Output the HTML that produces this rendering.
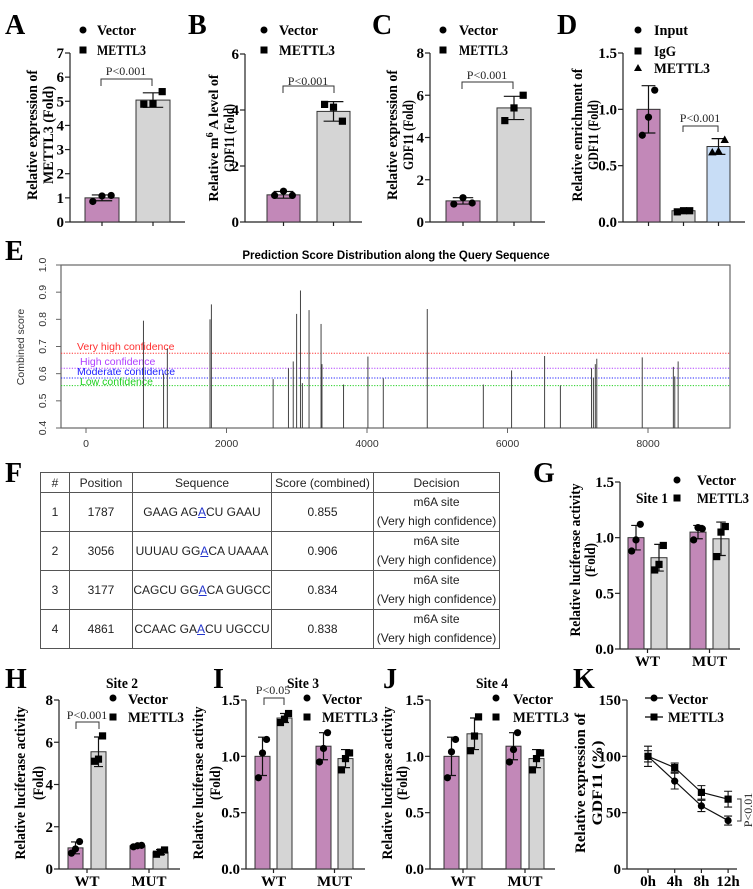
<!DOCTYPE html>
<html><head><meta charset="utf-8">
<style>
body{margin:0;background:#fff;}
#wrap{position:relative;width:753px;height:889px;overflow:hidden;background:#fff;}
svg text{font-family:"Liberation Serif",serif;}
.b{font-weight:bold;}
.lt{font-family:"Liberation Serif",serif;font-weight:bold;font-size:28px;}
.tk{font-weight:bold;font-size:15px;}
.lg{font-weight:bold;font-size:15px;}
.p{font-size:12px;}
#tbl{position:absolute;left:40px;top:472px;border-collapse:collapse;font-family:"Liberation Sans",sans-serif;font-size:12px;color:#222;}
#tbl td{border:1px solid #555;text-align:center;padding:0;}
.u{color:#2233cc;text-decoration:underline;}
</style></head><body>
<div id="wrap">
<svg id="fig" width="753" height="889" xmlns="http://www.w3.org/2000/svg">
<text class="lt" x="5" y="34">A</text>
<text class="lt" x="188" y="34">B</text>
<text class="lt" x="372" y="34">C</text>
<text class="lt" x="557" y="34">D</text>
<text class="lt" x="5" y="260">E</text>
<text class="lt" x="5" y="482">F</text>
<text class="lt" x="533" y="482">G</text>
<text class="lt" x="5" y="688">H</text>
<text class="lt" x="213" y="688">I</text>
<text class="lt" x="383" y="688">J</text>
<text class="lt" x="573" y="688">K</text>

<g class="b" font-size="15" text-anchor="middle">
<text transform="translate(37,135) rotate(-90)" textLength="130" lengthAdjust="spacingAndGlyphs">Relative expression of</text>
<text transform="translate(53,135) rotate(-90)" textLength="98" lengthAdjust="spacingAndGlyphs">METTL3 (Fold)</text>
<text transform="translate(218,138) rotate(-90)" font-size="14">Relative m<tspan font-size="10" dy="-5">6</tspan><tspan dy="5"> A level of</tspan></text>
<text transform="translate(234,138) rotate(-90)" textLength="68" lengthAdjust="spacingAndGlyphs">GDF11 (Fold)</text>
<text transform="translate(397,135) rotate(-90)" textLength="130" lengthAdjust="spacingAndGlyphs">Relative expression of</text>
<text transform="translate(413,135) rotate(-90)" textLength="70" lengthAdjust="spacingAndGlyphs">GDF11 (Fold)</text>
<text transform="translate(582,135) rotate(-90)" textLength="133" lengthAdjust="spacingAndGlyphs">Relative enrichment of</text>
<text transform="translate(598,135) rotate(-90)" textLength="70" lengthAdjust="spacingAndGlyphs">GDF11 (Fold)</text>
<text transform="translate(580,560) rotate(-90)" textLength="153" lengthAdjust="spacingAndGlyphs">Relative luciferase activity</text>
<text transform="translate(595,560) rotate(-90)" textLength="34" lengthAdjust="spacingAndGlyphs">(Fold)</text>
<text transform="translate(25,783) rotate(-90)" textLength="153" lengthAdjust="spacingAndGlyphs">Relative luciferase activity</text>
<text transform="translate(43,783) rotate(-90)" textLength="34" lengthAdjust="spacingAndGlyphs">(Fold)</text>
<text transform="translate(203,783) rotate(-90)" textLength="153" lengthAdjust="spacingAndGlyphs">Relative luciferase activity</text>
<text transform="translate(220,783) rotate(-90)" textLength="34" lengthAdjust="spacingAndGlyphs">(Fold)</text>
<text transform="translate(392,783) rotate(-90)" textLength="153" lengthAdjust="spacingAndGlyphs">Relative luciferase activity</text>
<text transform="translate(407,783) rotate(-90)" textLength="34" lengthAdjust="spacingAndGlyphs">(Fold)</text>
<text transform="translate(585,783) rotate(-90)" textLength="140" lengthAdjust="spacingAndGlyphs">Relative expression of</text>
<text transform="translate(602,783) rotate(-90)" textLength="85" lengthAdjust="spacingAndGlyphs">GDF11 (%)</text>
</g>

<g class="lg">
<circle cx="83" cy="30" r="3.5"/>
<text x="97" y="35" textLength="39" lengthAdjust="spacingAndGlyphs">Vector</text>
<rect x="79.5" y="46.5" width="7" height="7"/>
<text x="97" y="55" textLength="49" lengthAdjust="spacingAndGlyphs">METTL3</text>
<circle cx="264" cy="30" r="3.5"/>
<text x="279" y="35" textLength="39" lengthAdjust="spacingAndGlyphs">Vector</text>
<rect x="260.5" y="46.5" width="7" height="7"/>
<text x="279" y="55" textLength="56" lengthAdjust="spacingAndGlyphs">METTL3</text>
<circle cx="443" cy="30" r="3.5"/>
<text x="459" y="35" textLength="39" lengthAdjust="spacingAndGlyphs">Vector</text>
<rect x="439.5" y="46.5" width="7" height="7"/>
<text x="459" y="55" textLength="49" lengthAdjust="spacingAndGlyphs">METTL3</text>
<circle cx="638" cy="30" r="3.5"/>
<text x="654" y="35" textLength="34" lengthAdjust="spacingAndGlyphs">Input</text>
<rect x="634.5" y="47.5" width="7" height="7"/>
<text x="654" y="56" textLength="22" lengthAdjust="spacingAndGlyphs">IgG</text>
<path d="M638 64 L642 71 L634 71 Z"/>
<text x="654" y="73" textLength="56" lengthAdjust="spacingAndGlyphs">METTL3</text>
<text x="652" y="503" text-anchor="middle" textLength="32" lengthAdjust="spacingAndGlyphs">Site 1</text>
<circle cx="677" cy="480" r="3.5"/>
<text x="697" y="485" textLength="39" lengthAdjust="spacingAndGlyphs">Vector</text>
<rect x="673.5" y="494.5" width="7" height="7"/>
<text x="697" y="503" textLength="52" lengthAdjust="spacingAndGlyphs">METTL3</text>
<text x="122" y="688" text-anchor="middle" textLength="32" lengthAdjust="spacingAndGlyphs">Site 2</text>
<circle cx="113" cy="698" r="3.5"/>
<text x="128" y="704" textLength="40" lengthAdjust="spacingAndGlyphs">Vector</text>
<rect x="109.5" y="713.5" width="7" height="7"/>
<text x="128" y="722" textLength="56" lengthAdjust="spacingAndGlyphs">METTL3</text>
<text x="303" y="688" text-anchor="middle" textLength="32" lengthAdjust="spacingAndGlyphs">Site 3</text>
<circle cx="307" cy="698" r="3.5"/>
<text x="322" y="704" textLength="40" lengthAdjust="spacingAndGlyphs">Vector</text>
<rect x="303.5" y="713.5" width="7" height="7"/>
<text x="322" y="722" textLength="56" lengthAdjust="spacingAndGlyphs">METTL3</text>
<text x="492" y="688" text-anchor="middle" textLength="32" lengthAdjust="spacingAndGlyphs">Site 4</text>
<circle cx="496" cy="698" r="3.5"/>
<text x="513" y="704" textLength="40" lengthAdjust="spacingAndGlyphs">Vector</text>
<rect x="492.5" y="713.5" width="7" height="7"/>
<text x="513" y="722" textLength="56" lengthAdjust="spacingAndGlyphs">METTL3</text>
<line x1="645" y1="698" x2="663" y2="698" stroke="#000" stroke-width="1.2"/>
<circle cx="654" cy="698" r="3.5"/>
<text x="668" y="704" textLength="40" lengthAdjust="spacingAndGlyphs">Vector</text>
<line x1="645" y1="717" x2="663" y2="717" stroke="#000" stroke-width="1.2"/>
<rect x="650.5" y="713.5" width="7" height="7"/>
<text x="668" y="722" textLength="56" lengthAdjust="spacingAndGlyphs">METTL3</text>
</g>

<g fill="none" stroke="#333" stroke-width="1">
<path d="M101 86 V79 H152 V86"/>
<path d="M283 93 V86 H334 V93"/>
<path d="M462 89 V82 H513 V89"/>
<path d="M683 132 V126 H718 V132"/>
<path d="M76 729 V722 H99 V729"/>
<path d="M264 705 V698 H284 V705"/>
<path d="M737 799 H741 V821 H737"/>
</g>
<g class="p" text-anchor="middle" fill="#222">
<text x="126" y="75">P&lt;0.001</text>
<text x="308" y="85">P&lt;0.001</text>
<text x="487" y="79">P&lt;0.001</text>
<text x="700" y="122">P&lt;0.001</text>
<text x="87" y="719">P&lt;0.001</text>
<text x="273" y="694">P&lt;0.05</text>
<text transform="translate(752,810) rotate(-90)">P&lt;0.01</text>
</g>

<text x="396" y="259" text-anchor="middle" font-weight="bold" font-size="11.5" style="font-family:'Liberation Sans',sans-serif">Prediction Score Distribution along the Query Sequence</text>
<text transform="translate(24,347) rotate(-90)" text-anchor="middle" font-size="10.5" fill="#333" style="font-family:'Liberation Sans',sans-serif">Combined score</text>
<g id="eg"></g>
</svg>

<table id="tbl">
<colgroup><col style="width:29px"><col style="width:63px"><col style="width:139px"><col style="width:102px"><col style="width:126px"></colgroup>
<tr style="height:20px"><td>#</td><td>Position</td><td>Sequence</td><td>Score (combined)</td><td>Decision</td></tr>
<tr style="height:38px"><td>1</td><td>1787</td><td>GAAG AG<span class="u">A</span>CU GAAU</td><td>0.855</td><td style="line-height:19px">m6A site<br>(Very high confidence)</td></tr>
<tr style="height:38px"><td>2</td><td>3056</td><td>UUUAU GG<span class="u">A</span>CA UAAAA</td><td>0.906</td><td style="line-height:19px">m6A site<br>(Very high confidence)</td></tr>
<tr style="height:38px"><td>3</td><td>3177</td><td>CAGCU GG<span class="u">A</span>CA GUGCC</td><td>0.834</td><td style="line-height:19px">m6A site<br>(Very high confidence)</td></tr>
<tr style="height:38px"><td>4</td><td>4861</td><td>CCAAC GA<span class="u">A</span>CU UGCCU</td><td>0.838</td><td style="line-height:19px">m6A site<br>(Very high confidence)</td></tr>
</table>
</div>

<script>
const A_means=[1.0,5.05]; const A_err=[0.12,0.3]; const A_pts=[[0.85,1.08,1.1],[4.88,4.9,5.4]];
const A_ticks=[0,1,2,3,4,5,6,7];
const B_means=[0.97,3.95]; const B_err=[0.12,0.35]; const B_pts=[[0.95,1.1,0.95],[4.2,4.1,3.6]];
const B_ticks=[0,2,4,6];
const C_means=[1.0,5.4]; const C_err=[0.15,0.55]; const C_pts=[[0.85,1.15,0.9],[4.8,5.4,6.0]];
const C_ticks=[0,2,4,6,8];
const D_means=[1.0,0.1,0.67]; const D_err=[0.21,0.015,0.07]; const D_pts=[[0.77,0.93,1.17],[0.09,0.1,0.1],[0.62,0.63,0.73]];
const D_ticks=[0,0.5,1.0,1.5];
const G_means=[1.0,0.82,1.05,0.99]; const G_err=[0.11,0.12,0.06,0.15]; const G_pts=[[0.88,0.98,1.12],[0.71,0.76,0.93],[0.98,1.09,1.08],[0.83,1.05,1.1]];
const H_means=[1.0,5.55,1.1,0.8]; const H_err=[0.28,0.7,0.05,0.12]; const H_pts=[[0.75,0.95,1.3],[5.1,5.2,6.3],[1.05,1.1,1.12],[0.7,0.8,0.9]];
const H_ticks=[0,2,4,6,8];
const I_means=[1.0,1.34,1.09,0.98]; const I_err=[0.17,0.04,0.12,0.08]; const I_pts=[[0.81,1.03,1.15],[1.3,1.33,1.38],[0.95,1.07,1.21],[0.88,0.98,1.03]];
const J_means=[1.0,1.2,1.09,0.98]; const J_err=[0.17,0.14,0.12,0.08]; const J_pts=[[0.81,1.04,1.15],[1.05,1.18,1.35],[0.95,1.06,1.21],[0.88,0.98,1.03]];
const LUC_ticks=[0,0.5,1.0,1.5];
const groupLabels=['WT','MUT'];
const K_times=['0h','4h','8h','12h'];
const K_vector=[100,78,56,43]; const K_vectorErr=[9,7,5,4];
const K_mettl3=[100,90,68,62]; const K_mettl3Err=[5,4,6,7];
const K_ticks=[0,50,100,150];
const E_positions=[818,1104,1158,1765,1785,2664,2882,2950,2998,3053,3080,3175,3346,3359,3666,4013,4232,4858,5656,6058,6528,6753,7196,7223,7250,7271,7918,8361,8381,8429];
const E_scores=[0.795,0.6,0.693,0.80,0.855,0.58,0.62,0.645,0.82,0.906,0.565,0.834,0.783,0.635,0.56,0.663,0.583,0.838,0.56,0.612,0.665,0.557,0.62,0.585,0.635,0.655,0.66,0.625,0.59,0.645];
const E_thrNames=['Very high confidence','High confidence','Moderate confidence','Low confidence'];
const E_thrValues=[0.675,0.62,0.584,0.556];
const E_xticks=[0,2000,4000,6000,8000];
const E_yticks=[0.4,0.5,0.6,0.7,0.8,0.9,1.0];

const NS='http://www.w3.org/2000/svg';
const svg=document.getElementById('fig');
function mk(tag,attrs,parent){const e=document.createElementNS(NS,tag);for(const k in attrs)e.setAttribute(k,attrs[k]);(parent||svg).appendChild(e);return e;}
const PURPLE='#c288b8',GRAY='#d5d5d5',BLUE='#c8ddf6';

function marker(shape,cx,cy,nm){
  let e;
  if(shape==='c'){e=mk('circle',{cx:cx,cy:cy,r:3.6,fill:'#000'});}
  else if(shape==='s'){e=mk('rect',{x:cx-3.6,y:cy-3.6,width:7.2,height:7.2,fill:'#000'});}
  else {e=mk('path',{d:`M${cx} ${cy-4.2} L${cx+4.2} ${cy+3.2} L${cx-4.2} ${cy+3.2} Z`,fill:'#000'});}
  
  
}

function barPanel(L,means,errs,pts,colors,shapes,ticks,fmt,tag,groups){
  const y=v=>L.y0-v/L.max*(L.y0-L.yTop);
  const xOf=i=>L.x0+Math.floor(i/L.gs)*L.gstep+(i%L.gs)*L.step;
  const ya=mk('line',{x1:L.ax,y1:L.y0,x2:L.ax,y2:L.yTop,stroke:'#222','stroke-width':1.2});
  
  
  const xa=mk('line',{x1:L.ax,y1:L.y0,x2:L.xEnd,y2:L.y0,stroke:'#222','stroke-width':1.2});
  
  
  ticks.forEach(t=>{
    const tl=mk('line',{x1:L.ax-5,y1:y(t),x2:L.ax,y2:y(t),stroke:'#222','stroke-width':1.2});
    
    
    const tx=mk('text',{x:L.ax-6,y:y(t)+5,'text-anchor':'end',class:'tk'});
    tx.textContent=fmt(t);
    
    
  });
  means.forEach((m,i)=>{
    const x=xOf(i);
    const r=mk('rect',{x:x,y:y(m),width:L.w,height:L.y0-y(m),fill:colors[i],stroke:'#333','stroke-width':1});
    
    
    const cx=x+L.w/2;
    const eb=mk('path',{d:`M${cx} ${y(m-errs[i])} V${y(m+errs[i])} M${cx-L.w*0.3} ${y(m+errs[i])} H${cx+L.w*0.3} M${cx-L.w*0.3} ${y(m-errs[i])} H${cx+L.w*0.3}`,stroke:'#111','stroke-width':1.2,fill:'none'});
    
    
    pts[i].forEach((p,j)=>marker(shapes[i],cx+(j-1)*L.w*0.27,y(p),'data-point-'+tag));
    if(!groups){
      const tk=mk('line',{x1:cx,y1:L.y0,x2:cx,y2:L.y0+4,stroke:'#222','stroke-width':1.2});
      
      
    }
  });
  if(groups){
    groups.forEach((g,k)=>{
      const gx=L.x0+k*L.gstep+(L.step+L.w)/2;
      const tk=mk('line',{x1:gx,y1:L.y0,x2:gx,y2:L.y0+4,stroke:'#222','stroke-width':1.2});
      
      
      const tx=mk('text',{x:gx,y:L.y0+17,'text-anchor':'middle',class:'tk'});
      tx.textContent=g;
      
      
    });
  }
}
const f0=t=>String(t), f1=t=>t.toFixed(1);
barPanel({ax:70,y0:222,yTop:53,max:7,x0:85,w:34,step:51,gs:2,gstep:0,xEnd:185},A_means,A_err,A_pts,[PURPLE,GRAY],['c','s'],A_ticks,f0,'a');
barPanel({ax:245,y0:222,yTop:54,max:6,x0:267,w:33,step:50,gs:2,gstep:0,xEnd:362},B_means,B_err,B_pts,[PURPLE,GRAY],['c','s'],B_ticks,f0,'b');
barPanel({ax:430,y0:222,yTop:53,max:8,x0:446,w:34,step:51,gs:2,gstep:0,xEnd:545},C_means,C_err,C_pts,[PURPLE,GRAY],['c','s'],C_ticks,f0,'c');
barPanel({ax:623,y0:222,yTop:53,max:1.5,x0:637,w:23,step:35,gs:3,gstep:0,xEnd:745},D_means,D_err,D_pts,[PURPLE,GRAY,BLUE],['c','s','t'],D_ticks,f1,'d');
barPanel({ax:620,y0:649,yTop:482,max:1.5,x0:628,w:16,step:23,gs:2,gstep:62,xEnd:740},G_means,G_err,G_pts,[PURPLE,GRAY,PURPLE,GRAY],['c','s','c','s'],LUC_ticks,f1,'g',groupLabels);
barPanel({ax:59,y0:869,yTop:700,max:8,x0:68,w:15,step:23,gs:2,gstep:62,xEnd:180},H_means,H_err,H_pts,[PURPLE,GRAY,PURPLE,GRAY],['c','s','c','s'],H_ticks,f0,'h',groupLabels);
barPanel({ax:246,y0:869,yTop:700,max:1.5,x0:255,w:15,step:22,gs:2,gstep:61,xEnd:365},I_means,I_err,I_pts,[PURPLE,GRAY,PURPLE,GRAY],['c','s','c','s'],LUC_ticks,f1,'i',groupLabels);
barPanel({ax:430,y0:869,yTop:700,max:1.5,x0:444,w:15,step:23,gs:2,gstep:62,xEnd:555},J_means,J_err,J_pts,[PURPLE,GRAY,PURPLE,GRAY],['c','s','c','s'],LUC_ticks,f1,'j',groupLabels);

(function(){
  const ax=627,y0=869,yTop=700,max=150;
  const y=v=>y0-v/max*(y0-yTop);
  const x=i=>648+i*26.7;
  const ya=mk('line',{x1:ax,y1:y0,x2:ax,y2:yTop,stroke:'#222','stroke-width':1.2});
  
  
  const xa=mk('line',{x1:ax,y1:y0,x2:737,y2:y0,stroke:'#222','stroke-width':1.2});
  
  
  K_ticks.forEach(t=>{
    const tl=mk('line',{x1:ax-5,y1:y(t),x2:ax,y2:y(t),stroke:'#222','stroke-width':1.2});
    
    
    const tx=mk('text',{x:ax-6,y:y(t)+5,'text-anchor':'end',class:'tk'});
    tx.textContent=String(t);
    
    
  });
  K_times.forEach((t,i)=>{
    const tk=mk('line',{x1:x(i),y1:y0,x2:x(i),y2:y0+4,stroke:'#222','stroke-width':1.2});
    
    
    const tx=mk('text',{x:x(i),y:y0+17,'text-anchor':'middle',class:'tk'});
    tx.textContent=t;
    
    
  });
  [[K_vector,K_vectorErr,'c','vector'],[K_mettl3,K_mettl3Err,'s','mettl3']].forEach(([vals,errs,sh,nm])=>{
    const ln=mk('polyline',{points:vals.map((v,i)=>x(i)+','+y(v)).join(' '),fill:'none',stroke:'#111','stroke-width':1.2});
    
    
    vals.forEach((v,i)=>{
      const eb=mk('path',{d:`M${x(i)} ${y(v-errs[i])} V${y(v+errs[i])} M${x(i)-4} ${y(v+errs[i])} H${x(i)+4} M${x(i)-4} ${y(v-errs[i])} H${x(i)+4}`,stroke:'#111','stroke-width':1.1,fill:'none'});
      
      
      marker(sh,x(i),y(v),'point-'+nm);
    });
  });
})();

(function(){
  const g=document.getElementById('eg');
  const L=61,R=730,T=265,B=428;
  const x=p=>86+p/2000*140.5;
  const y=s=>B-(s-0.4)/0.6*(B-T);
  const box=mk('rect',{x:L,y:T,width:R-L,height:B-T,fill:'none',stroke:'#666','stroke-width':1.2},g);
  
  
  E_xticks.forEach(t=>{
    const tl=mk('line',{x1:x(t),y1:B,x2:x(t),y2:B+5,stroke:'#666'},g);
    
    
    const tx=mk('text',{x:x(t),y:B+19,'text-anchor':'middle','font-size':10.5,fill:'#333',style:"font-family:'Liberation Sans',sans-serif"},g);
    tx.textContent=String(t);
    
    
  });
  E_yticks.forEach(t=>{
    const tl=mk('line',{x1:L-5,y1:y(t),x2:L,y2:y(t),stroke:'#666'},g);
    
    
    const tx=mk('text',{transform:`translate(46,${y(t)}) rotate(-90)`,'text-anchor':'middle','font-size':10.5,fill:'#333',style:"font-family:'Liberation Sans',sans-serif"},g);
    tx.textContent=t.toFixed(1);
    
    
  });
  const cols=['#ff3030','#b040ff','#2020ff','#20d020'];
  const labY=[346,361,371,381];
  E_thrValues.forEach((v,i)=>{
    const ln=mk('line',{x1:L,y1:y(v),x2:R,y2:y(v),stroke:cols[i],'stroke-width':1,'stroke-dasharray':'1.2,1.5'},g);
    
    
    const tx=mk('text',{x:i===1||i===3?80:77,y:labY[i]+4,'font-size':10.5,fill:cols[i],style:"font-family:'Liberation Sans',sans-serif"},g);
    tx.textContent=E_thrNames[i];
    
    
  });
  E_positions.forEach((p,i)=>{
    const ln=mk('line',{x1:x(p),y1:B,x2:x(p),y2:y(E_scores[i]),stroke:'#444','stroke-width':1},g);
    
    
  });
})();
</script>
</body></html>
